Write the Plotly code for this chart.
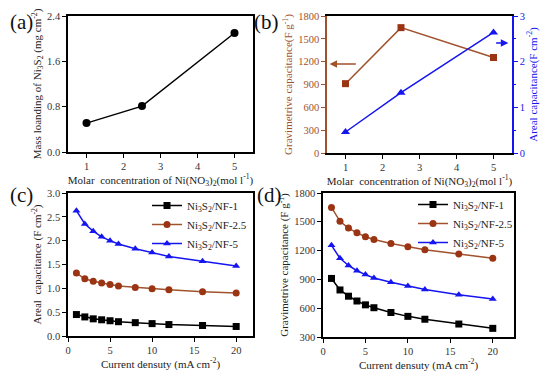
import plotly.graph_objects as go

# ---------------- data ----------------
conc = [1, 2.5, 5]
mass_loading = [0.51, 0.81, 2.1]
grav_b = [911, 1647, 1255]
areal_b = [0.46, 1.32, 2.64]

current = [1, 2, 3, 4, 5, 6, 8, 10, 12, 16, 20]
areal_nf1 = [0.45, 0.40, 0.36, 0.34, 0.32, 0.30, 0.28, 0.26, 0.24, 0.22, 0.20]
areal_nf25 = [1.32, 1.20, 1.15, 1.11, 1.08, 1.05, 1.02, 0.99, 0.97, 0.93, 0.90]
areal_nf5 = [2.63, 2.35, 2.20, 2.08, 2.00, 1.93, 1.83, 1.75, 1.67, 1.57, 1.47]
grav_nf1 = [910, 790, 725, 675, 635, 605, 555, 515, 485, 435, 390]
grav_nf25 = [1650, 1505, 1435, 1385, 1345, 1315, 1275, 1240, 1210, 1165, 1120]
grav_nf5 = [1255, 1120, 1045, 990, 950, 915, 870, 830, 795, 740, 695]
series_names = ["Ni<sub>3</sub>S<sub>2</sub>/NF-1", "Ni<sub>3</sub>S<sub>2</sub>/NF-2.5", "Ni<sub>3</sub>S<sub>2</sub>/NF-5"]

BLACK = "#000000"
BROWN = "#a0522d"
BROWN_M = "#9a3412"
BLUE = "#1515f0"
FONT = "Liberation Serif, Times New Roman, serif"

# page has an 8px body margin; figure is sized to fill the rest of the window
OFF = 8
W, H = 550 - OFF, 378 - OFF


def xd(a, b):
    return [(a - OFF) / W, (b - OFF) / W]


def yd(top, bottom):
    return [1 - (bottom - OFF) / H, 1 - (top - OFF) / H]


fig = go.Figure()

# (a)
fig.add_trace(go.Scatter(x=conc, y=mass_loading, mode="lines+markers",
                         line=dict(color=BLACK, width=1.5),
                         marker=dict(symbol="circle", size=8, color=BLACK),
                         xaxis="x", yaxis="y", showlegend=False))
# (b)
fig.add_trace(go.Scatter(x=conc, y=grav_b, mode="lines+markers",
                         line=dict(color=BROWN, width=1.5),
                         marker=dict(symbol="square", size=7, color=BROWN_M),
                         xaxis="x2", yaxis="y2", showlegend=False))
fig.add_trace(go.Scatter(x=conc, y=areal_b, mode="lines+markers",
                         line=dict(color=BLUE, width=1.5),
                         marker=dict(symbol="triangle-up", size=8, color=BLUE),
                         xaxis="x2", yaxis="y5", showlegend=False))

styles = [(BLACK, "square", BLACK), (BROWN, "circle", BROWN_M), (BLUE, "triangle-up", BLUE)]
for i, ys in enumerate([areal_nf1, areal_nf25, areal_nf5]):
    lc, sym, mc = styles[i]
    fig.add_trace(go.Scatter(x=current, y=ys, mode="lines+markers", name=series_names[i],
                             line=dict(color=lc, width=1.5),
                             marker=dict(symbol=sym, size=7, color=mc),
                             xaxis="x3", yaxis="y3", legend="legend"))
for i, ys in enumerate([grav_nf1, grav_nf25, grav_nf5]):
    lc, sym, mc = styles[i]
    fig.add_trace(go.Scatter(x=current, y=ys, mode="lines+markers", name=series_names[i],
                             line=dict(color=lc, width=1.5),
                             marker=dict(symbol=sym, size=7, color=mc),
                             xaxis="x4", yaxis="y4", legend="legend2"))

TICK_C = "#333333"
TIT_C = "#222222"


def ax(domain, rng, dtick, anchor, title="", color=BLACK, mirror=True, fmt=None, minor=True,
       side=None, overlaying=None, standoff=3):
    lab_c = TICK_C if color == BLACK else color
    tit_c = TIT_C if color == BLACK else color
    d = dict(domain=domain, range=rng, dtick=dtick, tick0=0, anchor=anchor,
             showline=True, linecolor=color, linewidth=1.5, mirror=mirror,
             ticks="outside", ticklen=4, tickwidth=1.2, tickcolor=color,
             showgrid=False, zeroline=False, automargin=False,
             tickfont=dict(family=FONT, size=10.5, color=lab_c),
             title=dict(text=title, standoff=standoff, font=dict(family=FONT, size=11, color=tit_c)))
    if fmt:
        d["tickformat"] = fmt
    if minor:
        d["minor"] = dict(ticks="outside", ticklen=2, tickcolor=color, nticks=2, showgrid=False)
    if side:
        d["side"] = side
    if overlaying:
        d["overlaying"] = overlaying
    return d


xt_conc = "Molar  concentration of Ni(NO<sub>3</sub>)<sub>2</sub>(mol l<sup>-1</sup>)"
xt_cur = "Current densuty (mA cm<sup>-2</sup>)"

fig.update_layout(
    width=W, height=H, margin=dict(l=0, r=0, t=0, b=0, autoexpand=False),
    plot_bgcolor="white", paper_bgcolor="white",
    font=dict(family=FONT),
    xaxis=ax(xd(68, 253), [0.5, 5.5], 1, "y", xt_conc, minor=False),
    yaxis=ax(yd(16, 152), [0, 2.4], 0.8, "x", "Mass loanding of Ni<sub>3</sub>S<sub>2</sub> (mg cm<sup>-2</sup>)", fmt=".1f"),
    xaxis2=ax(xd(327, 512), [0.5, 5.5], 1, "y2", xt_conc, minor=False),
    yaxis2=ax(yd(16, 153), [0, 1800], 300, "x2", "Gravimetrive capacitance(F g<sup>-1</sup>)", color=BROWN, mirror=False),
    yaxis5=ax(yd(16, 153), [0, 3], 1, "x2", "Areal capacitance(F cm<sup>-2</sup>)", color=BLUE, mirror=False, side="right", overlaying="y2"),
    xaxis3=ax(xd(68, 253), [0, 22], 5, "y3", xt_cur),
    yaxis3=ax(yd(193, 336), [0, 3], 0.5, "x3", "Areal  capacitance (F cm<sup>-2</sup>)", fmt=".1f"),
    xaxis4=ax(xd(323, 514), [0, 22.5], 5, "y4", xt_cur),
    yaxis4=ax(yd(193, 337), [300, 1800], 300, "x4", "Gravimetrive capacitance (F g<sup>-1</sup>)"),
    legend=dict(x=(147 - OFF) / W, y=1 - (191 - OFF) / H, xanchor="left", yanchor="top", bgcolor="rgba(0,0,0,0)",
                font=dict(family=FONT, size=11, color=TIT_C), tracegroupgap=0, itemwidth=30),
    legend2=dict(x=(413 - OFF) / W, y=1 - (190 - OFF) / H, xanchor="left", yanchor="top", bgcolor="rgba(0,0,0,0)",
                 font=dict(family=FONT, size=11, color=TIT_C), tracegroupgap=0, itemwidth=30),
)

# panel labels (pixel positions of the top-left corner in the window)
for txt, px, py in [("(a)", 8, 8), ("(b)", 252, 8), ("(c)", 8, 181), ("(d)", 255, 181)]:
    fig.add_annotation(text=txt, x=max(px - OFF, 0) / W, y=min(1 - (py - OFF) / H, 1), xref="paper", yref="paper",
                       showarrow=False, xanchor="left", yanchor="top",
                       font=dict(family=FONT, size=21, color="#111111"))

# arrows in (b)
fig.add_annotation(x=0.57, y=1169, ax=1.32, ay=1169, xref="x2", yref="y2", axref="x2", ayref="y2",
                   showarrow=True, arrowhead=2, arrowsize=1, arrowwidth=1.5, arrowcolor=BROWN, text="")
fig.add_annotation(x=5.4, y=2.41, ax=5.03, ay=2.41, xref="x2", yref="y5", axref="x2", ayref="y5",
                   showarrow=True, arrowhead=2, arrowsize=1, arrowwidth=1.5, arrowcolor=BLUE, text="")

fig.write_html("out.html")
